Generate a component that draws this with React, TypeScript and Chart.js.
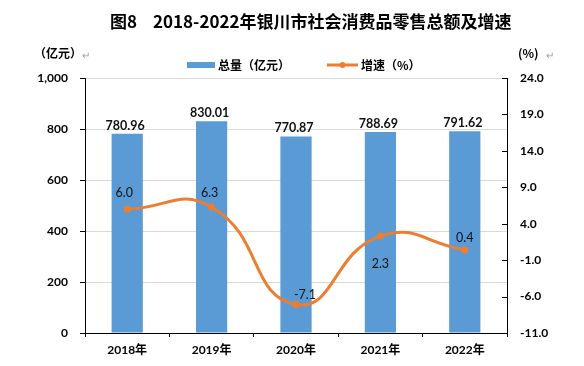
import React, { useEffect, useRef } from "react";
import { Chart, registerables } from "chart.js";

Chart.register(...registerables);

const categories = ["2018年", "2019年", "2020年", "2021年", "2022年"];
const totals = [780.96, 830.01, 770.87, 788.69, 791.62];
const growth = [6.0, 6.3, -7.1, 2.3, 0.4];
const leftTicks = [0, 200, 400, 600, 800, 1000];
const rightTicks = [-11, -6, -1, 4, 9, 14, 19, 24];

const BAR_COLOR = "#5B9BD5";
const LINE_COLOR = "#ED7D31";
const FONT = "Lato, 'Noto Sans CJK SC', sans-serif";
const CJK = "'Noto Sans CJK SC', Lato, sans-serif";

// label placement for the line labels: [dx, dy]
const lineLabelOffsets: [number, number][] = [
  [-3, -16],
  [-2, -14],
  [9, -10],
  [0, 28],
  [0, -12],
];

const decorPlugin = {
  id: "decor",
  afterDatasetsDraw(chart: any) {
    const ctx = chart.ctx;
    ctx.save();
    // bar labels
    const barMeta = chart.getDatasetMeta(0);
    ctx.font = `bold 12.5px ${FONT}`;
    ctx.fillStyle = "#111";
    ctx.textAlign = "center";
    ctx.textBaseline = "bottom";
    barMeta.data.forEach((el: any, i: number) => {
      ctx.fillText(totals[i].toFixed(2), el.x - 2, el.y - 2);
    });
    // line labels
    const lineMeta = chart.getDatasetMeta(1);
    ctx.font = `12.5px ${FONT}`;
    ctx.textBaseline = "middle";
    lineMeta.data.forEach((el: any, i: number) => {
      const [dx, dy] = lineLabelOffsets[i];
      ctx.fillText(growth[i].toFixed(1), el.x + dx, el.y + dy);
    });
    ctx.restore();
  },
  afterDraw(chart: any) {
    const ctx = chart.ctx;
    const area = chart.chartArea;
    ctx.save();
    // inner ticks of right axis
    const y1 = chart.scales.y1;
    ctx.strokeStyle = "#000";
    ctx.lineWidth = 1;
    rightTicks.forEach((v) => {
      const y = Math.round(y1.getPixelForValue(v)) + 0.5;
      ctx.beginPath();
      ctx.moveTo(area.right - 5, y);
      ctx.lineTo(area.right, y);
      ctx.stroke();
    });
    // title
    ctx.fillStyle = "#000";
    ctx.textBaseline = "middle";
    ctx.textAlign = "left";
    ctx.font = `bold 17px ${CJK}`;
    ctx.fillText("图8", 110, 22);
    ctx.fillText("2018-2022年银川市社会消费品零售总额及增速", 153, 22);
    // units
    ctx.font = `bold 12px ${CJK}`;
    ctx.fillText("（亿元）", 34, 53);
    ctx.fillText("(%)", 518, 53);
    ctx.fillStyle = "#999";
    ctx.font = `10px ${CJK}`;
    ctx.fillText("↵", 82, 55);
    ctx.fillText("↵", 546, 55);
    // legend
    ctx.fillStyle = BAR_COLOR;
    ctx.fillRect(187, 62, 28, 6);
    ctx.fillStyle = "#000";
    ctx.font = `bold 12px ${CJK}`;
    ctx.fillText("总量（亿元）", 218, 65);
    ctx.strokeStyle = LINE_COLOR;
    ctx.lineWidth = 3;
    ctx.beginPath();
    ctx.moveTo(327, 65);
    ctx.lineTo(358, 65);
    ctx.stroke();
    ctx.fillStyle = LINE_COLOR;
    ctx.beginPath();
    ctx.arc(342.5, 65, 3, 0, Math.PI * 2);
    ctx.fill();
    ctx.fillStyle = "#000";
    ctx.fillText("增速（%）", 361, 65);
    ctx.restore();
  },
};

export default function App() {
  const ref = useRef<HTMLCanvasElement>(null);
  useEffect(() => {
    if (!ref.current) return;
    const chart = new Chart(ref.current, {
      data: {
        labels: categories,
        datasets: [
          {
            type: "bar",
            label: "总量（亿元）",
            data: totals,
            backgroundColor: BAR_COLOR,
            yAxisID: "y",
            categoryPercentage: 1,
            barPercentage: 0.37,
            order: 2,
          },
          {
            type: "line",
            label: "增速（%）",
            data: growth,
            borderColor: LINE_COLOR,
            backgroundColor: LINE_COLOR,
            borderWidth: 3,
            pointRadius: 3.5,
            pointBorderWidth: 0,
            tension: 0.5,
            yAxisID: "y1",
            order: 1,
          },
        ],
      } as any,
      options: {
        responsive: false,
        animation: false,
        devicePixelRatio: 1,
        layout: { padding: { top: 78, left: 0, right: 0, bottom: 0 } },
        plugins: {
          legend: { display: false },
          title: { display: false },
          tooltip: { enabled: false },
        },
        scales: {
          x: {
            grid: {
              drawOnChartArea: false,
              drawTicks: true,
              tickLength: 4,
              tickColor: "#000",
              offset: true,
            },
            border: { color: "#000", width: 1 },
            ticks: {
              color: "#000",
              font: { family: FONT, size: 12, weight: "bold" },
              padding: 6,
              maxRotation: 0,
            },
            afterFit: (s: any) => {
              s.height = 33;
            },
          },
          y: {
            position: "left",
            min: 0,
            max: 1000,
            afterBuildTicks: (s: any) => {
              s.ticks = leftTicks.map((v) => ({ value: v }));
            },
            grid: {
              color: "#D9D9D9",
              tickColor: "#000",
              tickLength: 5,
            },
            border: { color: "#000", width: 1 },
            ticks: {
              color: "#000",
              font: { family: FONT, size: 12, weight: "bold" },
              padding: 12,
              callback: (v: any) => Number(v).toLocaleString("en-US"),
            },
            afterFit: (s: any) => {
              s.width = 85;
            },
          },
          y1: {
            position: "right",
            min: -11,
            max: 24,
            afterBuildTicks: (s: any) => {
              s.ticks = rightTicks.map((v) => ({ value: v }));
            },
            grid: { display: true, drawOnChartArea: false, drawTicks: false },
            border: { color: "#000", width: 1 },
            ticks: {
              color: "#000",
              font: { family: FONT, size: 12, weight: "bold" },
              padding: 13,
              callback: (v: any) => Number(v).toFixed(1),
            },
            afterFit: (s: any) => {
              s.width = 77;
            },
          },
        },
      } as any,
      plugins: [decorPlugin],
    });
    return () => chart.destroy();
  }, []);
  return (
    <div style={{ position: "absolute", left: 0, top: 0, width: 584, height: 366, background: "#fff" }}>
      <canvas ref={ref} width={584} height={366} style={{ width: 584, height: 366 }} />
    </div>
  );
}
